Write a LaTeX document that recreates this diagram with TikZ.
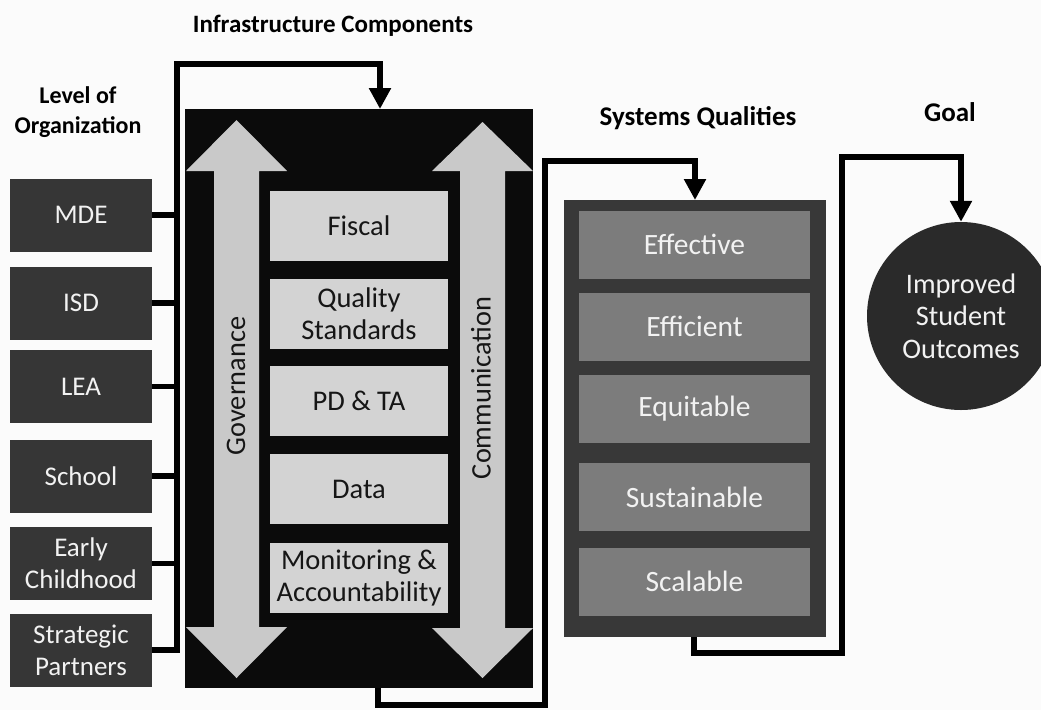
\documentclass[tikz,border=0pt]{standalone}
\usepackage{fontspec}
\setmainfont{Carlito}
\usetikzlibrary{arrows.meta}
\definecolor{orgc}{HTML}{363636}
\definecolor{infrac}{HTML}{0B0B0B}
\definecolor{compc}{HTML}{D3D3D3}
\definecolor{arrowc}{HTML}{C9C9C9}
\definecolor{sysc}{HTML}{383838}
\definecolor{qualc}{HTML}{7C7C7C}
\definecolor{goalc}{HTML}{2A2A2A}
\definecolor{txtw}{HTML}{F2F2F2}
\definecolor{txtd}{HTML}{161616}
\definecolor{bgc}{HTML}{FBFBFB}
\begin{document}
\begin{tikzpicture}[x=1pt,y=-1pt,
  lbl/.style={align=center, inner sep=0pt},
  title/.style={font=\bfseries\fontsize{25}{30.5}\selectfont, align=center, inner sep=0pt, text=black},
  orgbox/.style={rectangle, fill=orgc, text=txtw, minimum width=142pt, minimum height=73pt, lbl,
    font=\fontsize{27}{32}\selectfont},
  compbox/.style={rectangle, fill=compc, text=txtd, minimum width=178pt, minimum height=70pt, lbl,
    font=\fontsize{28.5}{32}\selectfont},
  qualbox/.style={rectangle, fill=qualc, text=txtw, minimum width=231pt, minimum height=68pt, lbl,
    font=\fontsize{29.5}{32}\selectfont},
  vlbl/.style={lbl, rotate=90, text=txtd, font=\fontsize{28.3}{32}\selectfont},
  conn/.style={draw=black, line width=5.5pt, line join=miter},
  tipd/.style={-{Triangle[width=21pt,length=21pt]}}
]
\clip (0,0) rectangle (1041,710);
\fill[bgc] (0,0) rectangle (1041,710);

% titles
\node[title] (tinfra) at (333,26) {Infrastructure Components};
\node[title, font=\bfseries\fontsize{24}{30}\selectfont] (tlevel) at (78,112) {Level of\\Organization};
\node[title, font=\bfseries\fontsize{27}{30}\selectfont] (tsys) at (698,118) {Systems Qualities};
\node[title, font=\bfseries\fontsize{27}{30}\selectfont] (tgoal) at (950,112) {Goal};

% level of organization boxes
\node[orgbox] (mde) at (81,215) {MDE};
\node[orgbox] (isd) at (81,303) {ISD};
\node[orgbox] (lea) at (81,386.5) {LEA};
\node[orgbox] (sch) at (81,476) {School};
\node[orgbox] (ech) at (81,563.5) {Early\\Childhood};
\node[orgbox] (spt) at (81,650) {Strategic\\Partners};

% infrastructure block
\node[rectangle, fill=infrac, minimum width=348pt, minimum height=579pt, inner sep=0pt] (infra) at (359,398.5) {};
\fill[arrowc] (236.5,120) -- (287,171) -- (259,171) -- (259,627) -- (287,627) -- (236.5,678)
  -- (186,627) -- (214,627) -- (214,171) -- (186,171) -- cycle;
\fill[arrowc] (482.5,122) -- (533,171) -- (505,171) -- (505,628) -- (533,628) -- (482.5,678)
  -- (432,628) -- (460,628) -- (460,171) -- (432,171) -- cycle;
\node[vlbl] (gov) at (236,386) {Governance};
\node[vlbl] (com) at (481,388) {Communication};

\node[compbox] (fis) at (359,226) {Fiscal};
\node[compbox] (qs) at (359,314) {Quality\\Standards};
\node[compbox] (pd) at (359,401) {PD \& TA};
\node[compbox] (dat) at (359,489) {Data};
\node[compbox] (mon) at (359,578) {Monitoring \&\\Accountability};

% systems qualities block
\node[rectangle, fill=sysc, minimum width=262pt, minimum height=437pt, inner sep=0pt] (sys) at (695,418.5) {};
\node[qualbox] (eff) at (694.5,244.5) {Effective};
\node[qualbox] (efi) at (694.5,326.5) {Efficient};
\node[qualbox] (equ) at (694.5,409) {Equitable};
\node[qualbox] (sus) at (694.5,497) {Sustainable};
\node[qualbox] (sca) at (694.5,581.5) {Scalable};

% goal
\node[circle, fill=goalc, text=txtw, minimum size=188pt, inner sep=0pt, lbl,
  font=\fontsize{28.3}{32.5}\selectfont] (goal) at (961,316) {Improved\\Student\\Outcomes};

% connectors: organization -> infrastructure
\coordinate (busTop) at (177,64);
\coordinate (infraIn) at (380,109);
\draw[conn, tipd] (spt.east) -| (busTop) -| (infraIn);
\foreach \n in {mde,isd,lea,sch,ech}
  \draw[conn] (\n.east) -- (\n.east -| busTop);

% infrastructure -> systems
\coordinate (infraOut) at (378,688);
\coordinate (botA) at (545,705);
\coordinate (topA) at (545,161);
\coordinate (sysIn) at (695,200);
\draw[conn, tipd] (infraOut) |- (botA) -- (topA) -| (sysIn);

% systems -> goal
\coordinate (sysOut) at (694,637);
\coordinate (botB) at (842,653);
\coordinate (topB) at (842,157);
\draw[conn, tipd] (sysOut) |- (botB) -- (topB) -| (goal.north);
\end{tikzpicture}
\end{document}
